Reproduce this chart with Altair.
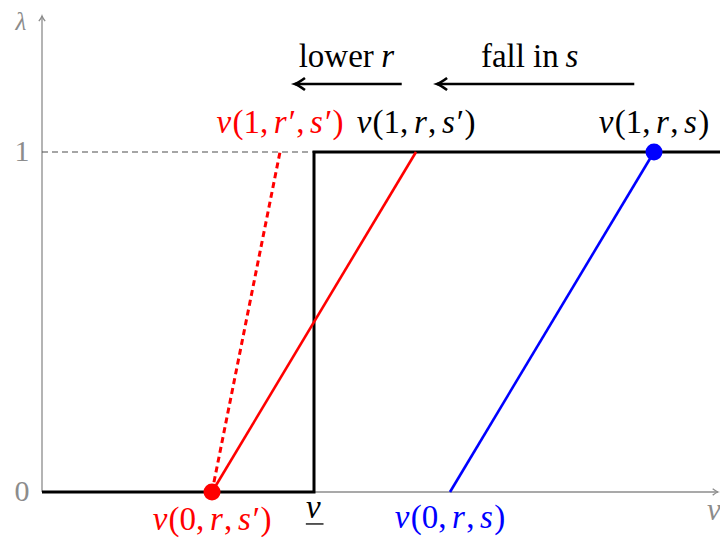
import altair as alt
import pandas as pd

# ---- data (v on the x axis, lambda on the y axis) ----
step_x = [0, 4, 4, 10.2]        # black step: lambda = 1 for v >= v_underline
step_y = [0, 0, 1, 1]
red_x = [2.5, 5.5]              # v(0,r,s') -> v(1,r,s')
red_y = [0, 1]
red_dash_x = [2.5, 3.5]         # v(0,r,s') -> v(1,r',s')
red_dash_y = [0, 1]
blue_x = [6, 9]                 # v(0,r,s) -> v(1,r,s)
blue_y = [0, 1]
guide_x = [0, 4]                # dashed guide at lambda = 1
guide_y = [1, 1]
xaxis_x = [0, 9.94]
xaxis_y = [0, 0]
yaxis_x = [0, 0]
yaxis_y = [0, 1.4]
arrow1_x = [5.29, 3.72]         # "lower r"
arrow2_x = [8.71, 5.81]         # "fall in s"
arrow_y = 1.2
under_x = [3.88, 4.14]          # underline of v
under_y = -0.094

# point labels: (pieces, centre v, lambda baseline, colour); "|" marks italic
labels = [
    (["|v", "(1,", "|r\u2032", ",", "|s\u2032", ")"], 3.5, 1.056, "#ff0000"),
    (["|v", "(1,", "|r", ",", "|s\u2032", ")"], 5.5, 1.056, "black"),
    (["|v", "(1,", "|r", ",", "|s", ")"], 9.0, 1.056, "black"),
    (["|v", "(0,", "|r", ",", "|s\u2032", ")"], 2.5, -0.112, "#ff0000"),
    (["|v"], 4.0, -0.0765, "black"),
    (["|v", "(0,", "|r", ",", "|s", ")"], 6.0, -0.106, "#0000ff"),
]

PX_PER_UNIT = 68.0
W, H = 712, 530
x_dom = [-0.5, -0.5 + W / PX_PER_UNIT]
y_dom = [-0.1353, 1.4235]
xs = alt.Scale(domain=x_dom, nice=False, zero=False)
ys = alt.Scale(domain=y_dom, nice=False, zero=False)
FONT = "Liberation Serif"
LSIZE = 33

# approximate glyph advance widths (em) of Liberation Serif
W_REG = {"(": 0.333, ")": 0.333, "0": 0.5, "1": 0.5, ",": 0.25}
W_IT = {"v": 0.444, "r": 0.389, "s": 0.389, "\u2032": 0.25}


def piece_width(p):
    if p.startswith("|"):
        return sum(W_IT.get(c, 0.4) for c in p[1:]) + 0.04
    w = sum(W_REG.get(c, 0.4) for c in p)
    if p.endswith(","):
        w += 0.17
    return w


rows_it, rows_up = [], []
for pieces, cx, cy, col in labels:
    total = sum(piece_width(p) for p in pieces)
    cur = cx - total * LSIZE / 2 / PX_PER_UNIT
    for p in pieces:
        row = {"x": cur, "y": cy, "t": p.lstrip("|"), "c": col}
        (rows_it if p.startswith("|") else rows_up).append(row)
        cur += piece_width(p) * LSIZE / PX_PER_UNIT


def enc(ch, order=True):
    kw = dict(x=alt.X("x:Q", scale=xs, axis=None),
              y=alt.Y("y:Q", scale=ys, axis=None))
    if order:
        kw["order"] = alt.Order("o:Q")
    return ch.encode(**kw)


def line(xv, yv, color, width, dash=None):
    df = pd.DataFrame({"x": xv, "y": yv, "o": list(range(len(xv)))})
    kw = dict(color=color, strokeWidth=width, clip=False)
    if dash:
        kw["strokeDash"] = dash
    return enc(alt.Chart(df).mark_line(**kw))


def text(t, x, y, color="black", size=LSIZE, style="normal", align="center",
         baseline="alphabetic"):
    df = pd.DataFrame({"x": [x], "y": [y], "t": [t]})
    return alt.Chart(df).mark_text(
        font=FONT, fontSize=size, fontStyle=style, color=color,
        align=align, baseline=baseline, clip=False
    ).encode(x=alt.X("x:Q", scale=xs, axis=None),
             y=alt.Y("y:Q", scale=ys, axis=None),
             text="t:N")


def pieces_layer(rows, style):
    df = pd.DataFrame(rows)
    return alt.Chart(df).mark_text(
        font=FONT, fontSize=LSIZE, fontStyle=style, align="left",
        baseline="alphabetic", clip=False
    ).encode(x=alt.X("x:Q", scale=xs, axis=None),
             y=alt.Y("y:Q", scale=ys, axis=None),
             text="t:N", color=alt.Color("c:N", scale=None))


def head(x, y, shape, color, size, width):
    df = pd.DataFrame({"x": [x], "y": [y]})
    return enc(alt.Chart(df).mark_point(
        shape=shape, filled=False, color=color, size=size,
        strokeWidth=width, opacity=1, clip=False), order=False)


def dot(x, y, color):
    df = pd.DataFrame({"x": [x], "y": [y]})
    return enc(alt.Chart(df).mark_circle(color=color, size=290, opacity=1,
                                         clip=False), order=False)


LEFT = "M1,-0.6 Q0.35,-0.12 0,0 Q0.35,0.12 1,0.6"
RIGHT = "M-1,-0.6 Q-0.35,-0.12 0,0 Q-0.35,0.12 -1,0.6"
UP = "M-0.6,1 Q-0.12,0.35 0,0 Q0.12,0.35 0.6,1"
GRAY = "#8c8c8c"

layers = [
    line(xaxis_x, xaxis_y, GRAY, 1.3),
    line(yaxis_x, yaxis_y, GRAY, 1.3),
    head(xaxis_x[1], 0, RIGHT, GRAY, 110, 1.3),
    head(0, yaxis_y[1], UP, GRAY, 110, 1.3),
    line(guide_x, guide_y, "#4d4d4d", 1.1, [6, 4]),
    line(step_x, step_y, "black", 3),
    line(red_dash_x, red_dash_y, "#ff0000", 3, [6, 4]),
    line(red_x, red_y, "#ff0000", 2.6),
    line(blue_x, blue_y, "#0000ff", 2.6),
    dot(2.5, 0, "#ff0000"),
    dot(9, 1, "#0000ff"),
    line(arrow1_x, [arrow_y, arrow_y], "black", 2.6),
    line(arrow2_x, [arrow_y, arrow_y], "black", 2.6),
    head(arrow1_x[1], arrow_y, LEFT, "black", 400, 2.6),
    head(arrow2_x[1], arrow_y, LEFT, "black", 400, 2.6),
    line(under_x, [under_y, under_y], "black", 1.3),
    # tick labels and axis titles
    text("1", -0.294, 1, GRAY, 30, baseline="middle"),
    text("0", -0.294, 0, GRAY, 30, baseline="middle"),
    text("\u03bb", -0.31, 1.36, GRAY, 25, "italic"),
    text("v", 9.78, -0.056, GRAY, 31, "italic", align="left", baseline="middle"),
    # arrow labels
    text("lower", 4.88, 1.25, align="right"),
    text("r", 4.99, 1.25, style="italic", align="left"),
    text("fall in", 7.60, 1.25, align="right"),
    text("s", 7.70, 1.25, style="italic", align="left"),
    # point labels (math: italic letters, upright digits and punctuation)
    pieces_layer(rows_it, "italic"),
    pieces_layer(rows_up, "normal"),
]

chart = alt.layer(*layers).properties(
    width=W, height=H, padding=0,
    autosize=alt.AutoSizeParams(type="none")
).configure_view(strokeWidth=0)

chart.save("out.html", embed_options={"renderer": "svg", "actions": False})
